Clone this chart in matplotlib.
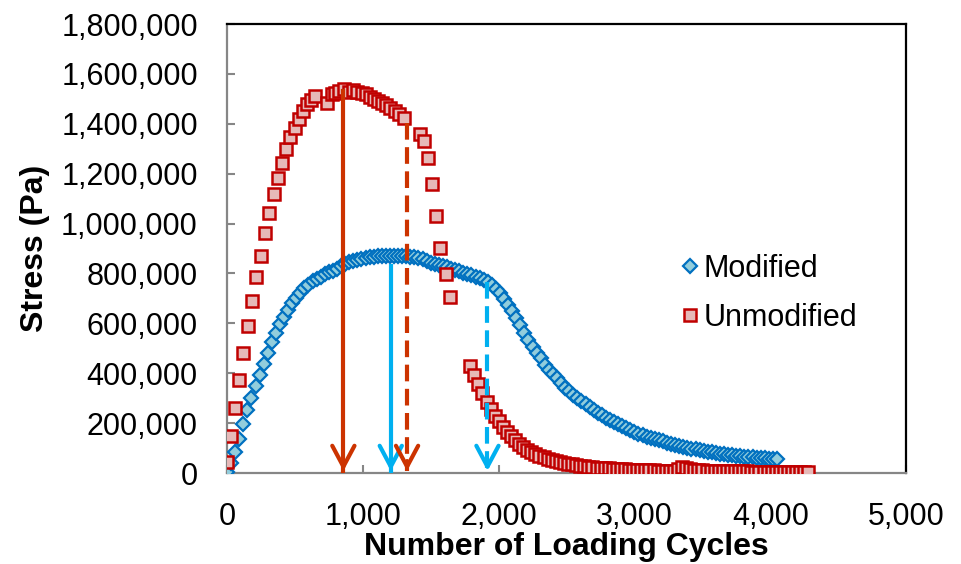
import numpy as np
import matplotlib.pyplot as plt
from matplotlib.ticker import FuncFormatter, MultipleLocator

plt.rcParams['font.family'] = ['Liberation Sans', 'DejaVu Sans']

# modified specimen, logged every 30 cycles (stress in kPa)
mod_cycles = list(range(0, 4051, 30))
mod_stress_k = [
    5, 40, 85, 137, 197, 252, 300, 347, 393, 437,
    481, 526, 562, 598, 625, 653, 681, 703, 722, 740,
    755, 768, 778, 787, 796, 804, 811, 819, 828, 836,
    844, 851, 855, 859, 862, 865, 867, 869, 870, 871,
    872, 872, 872, 871, 870, 868, 865, 861, 857, 851,
    843, 837, 833, 828, 824, 819, 814, 808, 802, 797,
    792, 786, 780, 773, 764, 752, 737, 720, 697, 672,
    650, 622, 592, 563, 535, 506, 482, 461, 435, 414,
    396, 380, 360, 342, 327, 313, 300, 289, 277, 265,
    254, 242, 232, 222, 213, 205, 196, 188, 180, 172,
    164, 157, 151, 145, 140, 135, 131, 127, 122, 117,
    112, 108, 104, 101, 98, 95, 92, 89, 86, 83,
    80, 78, 76, 74, 72, 70, 68, 66, 65, 63,
    62, 60, 59, 58, 57, 55,
]

# unmodified specimen, early part has missing readings
unmod_cycles_a = [
    0, 29, 59, 91, 120, 152, 182, 214, 251, 283,
    312, 344, 373, 403, 435, 467, 499, 528, 558, 587,
    619, 648, 737, 771, 796, 828, 862, 899, 931, 960,
    993, 1024, 1056, 1085, 1115, 1144, 1174, 1203, 1236, 1267,
    1307, 1422, 1452, 1481, 1513, 1542, 1572, 1609, 1641,
]
unmod_stress_a = [
    45, 149, 261, 372, 481, 588, 690, 785, 872, 961,
    1044, 1119, 1184, 1244, 1297, 1348, 1385, 1419, 1452, 1479,
    1495, 1512, 1483, 1519, 1525, 1532, 1539, 1529, 1535, 1529,
    1525, 1519, 1509, 1501, 1492, 1485, 1475, 1465, 1452, 1439,
    1425, 1361, 1332, 1263, 1159, 1029, 903, 796, 704,
]
unmod_cycles_b = list(range(1791, 4282, 30))
unmod_stress_b = [
    428, 392, 356, 320, 285, 255, 230, 208, 185, 165,
    148, 132, 117, 104, 93, 83, 75, 69, 63, 58,
    53, 49, 45, 41, 38, 35, 32, 29, 27, 25,
    24, 22, 21, 20, 19, 18, 17, 16, 15, 14,
    13, 13, 12, 12, 11, 11, 10, 10, 9, 9,
    9, 18, 24, 22, 16, 13, 12, 11, 10, 10,
    9, 9, 8, 8, 8, 7, 7, 7, 7, 6,
    6, 6, 6, 6, 5, 5, 5, 5, 5, 5,
    5, 5, 5, 5,
]

# marker arrows: cycle, top stress (Pa), colour, dashed?
arrow_cycles = [857, 1206, 1326, 1918]
arrow_tops = [1532000, 828000, 1405000, 765000]
arrow_colors = ['#CC3300', '#00B0F0', '#CC3300', '#00B0F0']
arrow_dashed = [False, False, True, True]
arrow_tip = 8000

mod_x = np.array(mod_cycles)
mod_y = np.array(mod_stress_k) * 1000.0
unmod_x = np.array(unmod_cycles_a + unmod_cycles_b)
unmod_y = np.array(unmod_stress_a + unmod_stress_b) * 1000.0

fig = plt.figure(figsize=(9.61, 5.64), dpi=100)
ax = fig.add_axes([0.2362, 0.1613, 0.7066, 0.7961])

ax.plot(mod_x, mod_y, linestyle='none', marker='D', ms=7.2,
        mfc='#92CDDC', mec='#0070C0', mew=1.6, label='Modified', zorder=3)
ax.plot(unmod_x, unmod_y, linestyle='none', marker='s', ms=8.4,
        mfc='#E6B9B8', mec='#C00000', mew=1.8, label='Unmodified', zorder=4)

for cx, top, col, dashed in zip(arrow_cycles, arrow_tops, arrow_colors, arrow_dashed):
    if dashed:
        ax.plot([cx, cx], [top, arrow_tip], color=col, lw=3, dashes=(4.0, 1.8), zorder=5)
    else:
        ax.plot([cx, cx], [top, arrow_tip], color=col, lw=3, zorder=5)
    ax.annotate('', xy=(cx, arrow_tip), xytext=(cx, arrow_tip + 40000),
                arrowprops=dict(arrowstyle='->,head_length=0.75,head_width=0.4',
                                mutation_scale=20, color=col, lw=3,
                                shrinkA=0, shrinkB=0),
                zorder=6)

ax.set_xlim(0, 5000)
ax.set_ylim(0, 1800000)
ax.xaxis.set_major_locator(MultipleLocator(1000))
ax.yaxis.set_major_locator(MultipleLocator(200000))
ax.xaxis.set_major_formatter(FuncFormatter(lambda v, p: '{:,.0f}'.format(v)))
ax.yaxis.set_major_formatter(FuncFormatter(lambda v, p: '{:,.0f}'.format(v)))

for side in ['left', 'bottom']:
    ax.spines[side].set_color('#868686')
    ax.spines[side].set_linewidth(1.6)
for side in ['top', 'right']:
    ax.spines[side].set_color('black')
    ax.spines[side].set_linewidth(1.6)

ax.tick_params(axis='both', direction='in', length=6, width=1.5, color='#868686',
               labelsize=22, pad=21)

ax.set_xlabel('Number of Loading Cycles', fontsize=23, fontweight='bold', labelpad=0)
ax.set_ylabel('Stress (Pa)', fontsize=23, fontweight='bold', labelpad=8)

ax.legend(loc='center left', bbox_to_anchor=(0.652, 0.40), frameon=False,
          fontsize=22, numpoints=1, handlelength=0.5, handletextpad=0.2,
          labelspacing=0.62, borderaxespad=0)

fig.savefig('out.png', dpi=100)
